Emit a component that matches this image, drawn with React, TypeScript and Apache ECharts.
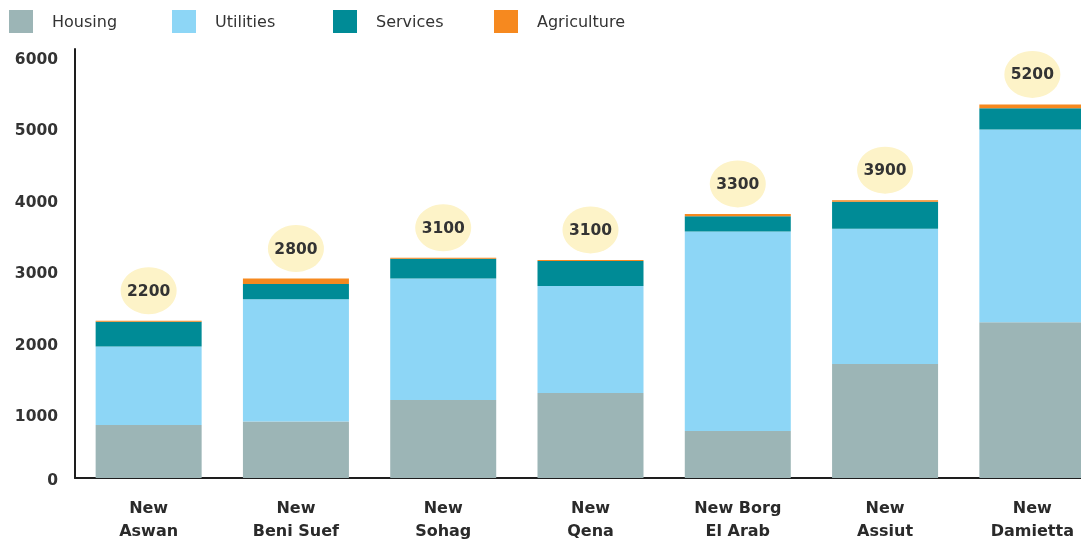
import React, { useEffect, useRef } from "react";
import * as echarts from "echarts";

const categories = ["New\nAswan", "New\nBeni Suef", "New\nSohag", "New\nQena", "New Borg\nEl Arab", "New\nAssiut", "New\nDamietta"];
const housing = [740, 790, 1090, 1190, 657, 1595, 2180];
const utilities = [1100, 1710, 1700, 1495, 2790, 1890, 2695];
const services = [345, 215, 275, 350, 215, 377, 295];
const agriculture = [15, 75, 15, 15, 32, 24, 55];
const totalLabels = ["2200", "2800", "3100", "3100", "3300", "3900", "5200"];
const seriesNames = ["Housing", "Utilities", "Services", "Agriculture"];
const yMin = 0;
const yMax = 6000;
const yInterval = 1000;

const colors = ["#9cb5b6", "#8dd6f6", "#008b96", "#f6891f"];
const FONT = "DejaVu Sans";

export default function App() {
  const ref = useRef<HTMLDivElement>(null);
  useEffect(() => {
    if (!ref.current) return;
    const chart = echarts.init(ref.current, undefined, { renderer: "svg" });
    const totals = housing.map((h, i) => h + utilities[i] + services[i] + agriculture[i]);
    const stackData = [housing, utilities, services, agriculture];
    const legendLefts = [4, 167, 328, 489];
    chart.setOption({
      animation: false,
      color: colors,
      legend: seriesNames.map((n, i) => ({
        data: [n],
        left: legendLefts[i],
        top: 5,
        icon: "rect",
        itemWidth: 24,
        itemHeight: 23,
        selectedMode: false,
        textStyle: { fontFamily: FONT, fontSize: 16, color: "#333", padding: [0, 0, 0, 14] },
      })),
      grid: { left: 75, right: 24, top: 49, bottom: 62, containLabel: false, outerBoundsMode: "none" },
      xAxis: {
        type: "category",
        data: categories,
        axisLine: { show: true, lineStyle: { color: "#1e1e1e", width: 2 } },
        axisTick: { show: false },
        axisLabel: {
          fontFamily: FONT,
          fontSize: 16,
          fontWeight: "bold",
          color: "#2a2a2a",
          lineHeight: 23,
          margin: 18,
          interval: 0,
        },
      },
      yAxis: {
        type: "value",
        min: yMin,
        max: yMax,
        interval: yInterval,
        splitLine: { show: false },
        axisTick: { show: false },
        axisLine: { show: true, lineStyle: { color: "#1e1e1e", width: 2 } },
        axisLabel: {
          margin: 17,
          formatter: (v: number) => (v === 0 ? "{z|0}" : "{a|" + v + "}"),
          rich: {
            a: { fontFamily: FONT, fontSize: 15.5, fontWeight: "bold", color: "#333", padding: [19, 0, 0, 0] },
            z: { fontFamily: FONT, fontSize: 15.5, fontWeight: "bold", color: "#333", padding: [4, 0, 0, 0] },
          },
        },
      },
      series: [
        ...seriesNames.map((n, i) => ({
          name: n,
          type: "bar",
          stack: "total",
          barWidth: 106,
          data: stackData[i],
          itemStyle: { color: colors[i] },
        })),
        {
          name: "Total",
          type: "scatter",
          data: totals,
          symbol: "circle",
          symbolSize: [56, 47],
          symbolOffset: [0, -30],
          itemStyle: { color: "#fdf3c8", opacity: 1 },
          z: 5,
          label: {
            show: true,
            position: "inside",
            formatter: (p: any) => totalLabels[p.dataIndex],
            fontFamily: FONT,
            fontSize: 15.5,
            fontWeight: "bold",
            color: "#333",
          },
        },
      ],
    });
    return () => chart.dispose();
  }, []);
  return <div ref={ref} style={{ position: "fixed", left: 0, top: 0, width: 1130, height: 540 }} />;
}
